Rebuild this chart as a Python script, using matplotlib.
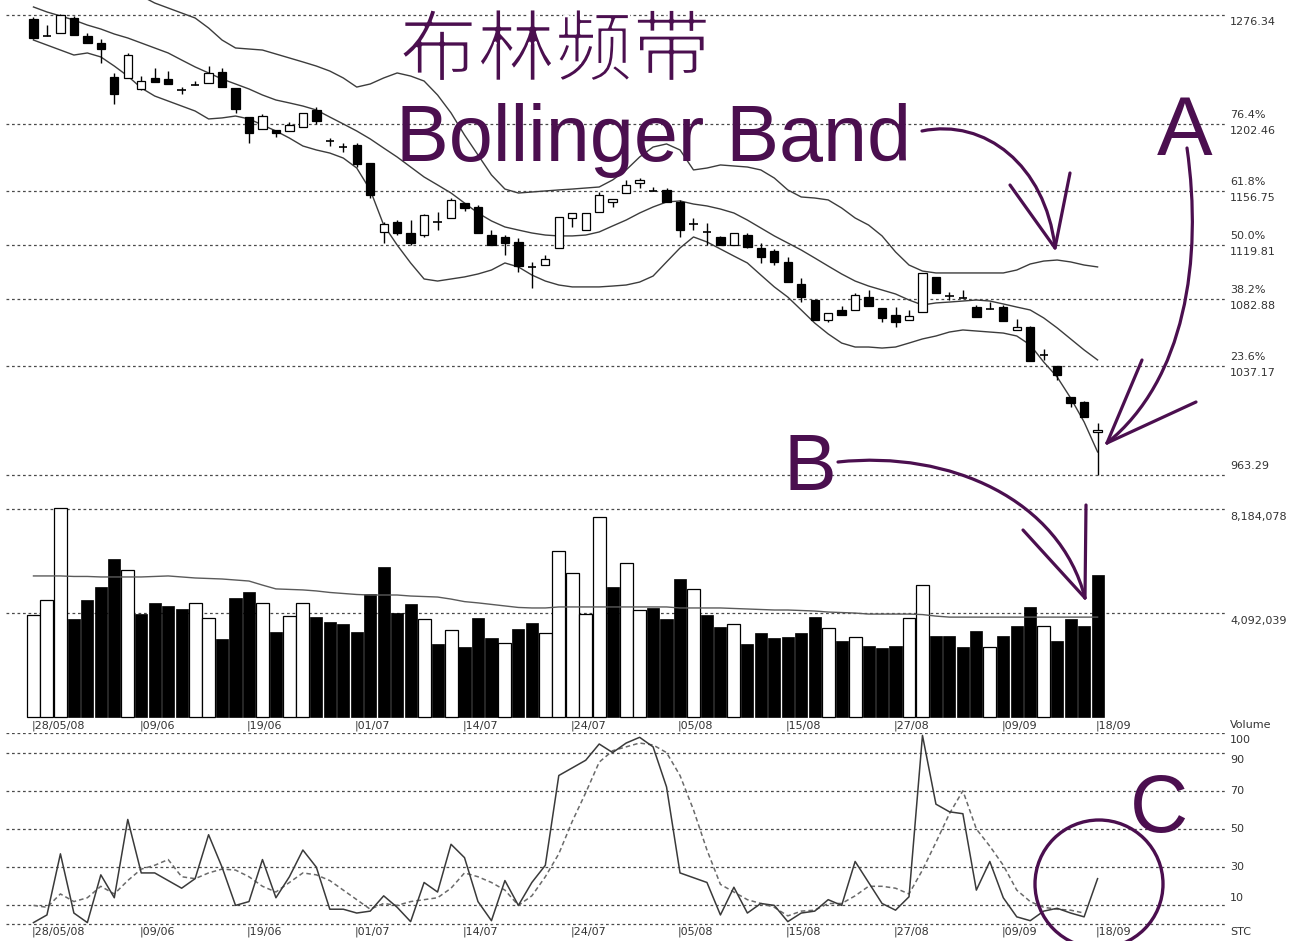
import numpy as np
import matplotlib
matplotlib.use("Agg")
import matplotlib.pyplot as plt
import matplotlib.patheffects as pe
from matplotlib.path import Path
from matplotlib.patches import PathPatch, Ellipse
from matplotlib.lines import Line2D

# ---------------- data ----------------
opens = [1273.6, 1262.1, 1264.1, 1274.3, 1262.1, 1257.3, 1234.1, 1233.5, 1226.0, 1233.5,
         1232.8, 1225.3, 1228.7, 1230.1, 1237.6, 1226.7, 1206.9, 1198.8, 1198.1, 1197.4,
         1200.1, 1211.7, 1190.6, 1186.5, 1187.9, 1175.6, 1128.7, 1135.5, 1128.0, 1126.6,
         1135.5, 1138.2, 1148.4, 1145.7, 1126.6, 1125.3, 1121.9, 1104.8, 1106.2, 1117.8,
         1138.2, 1130.0, 1142.3, 1149.1, 1155.2, 1162.0, 1156.6, 1157.3, 1149.1, 1134.1,
         1128.7, 1125.3, 1119.8, 1126.6, 1117.8, 1115.7, 1108.2, 1093.3, 1082.4, 1068.8,
         1075.6, 1075.6, 1084.4, 1076.9, 1072.2, 1068.8, 1074.2, 1098.0, 1085.1, 1083.8,
         1077.6, 1076.3, 1077.6, 1062.0, 1064.0, 1045.0, 1037.5, 1016.4, 1013.0, 992.6]
closes = [1260.7, 1262.1, 1276.3, 1262.7, 1257.3, 1253.2, 1222.6, 1249.1, 1231.4, 1230.8,
          1229.4, 1225.3, 1228.7, 1236.9, 1227.4, 1212.4, 1196.0, 1207.6, 1196.0, 1201.5,
          1209.7, 1204.2, 1190.6, 1186.5, 1174.9, 1153.8, 1134.1, 1128.0, 1121.2, 1140.2,
          1135.5, 1150.5, 1145.0, 1128.0, 1119.8, 1121.2, 1105.5, 1104.8, 1110.3, 1138.9,
          1141.6, 1141.6, 1153.8, 1151.1, 1160.7, 1164.1, 1156.6, 1149.1, 1130.0, 1134.1,
          1128.7, 1119.8, 1128.0, 1118.5, 1111.7, 1108.2, 1094.6, 1084.4, 1068.8, 1073.5,
          1072.2, 1085.8, 1078.3, 1070.2, 1067.4, 1071.5, 1100.8, 1087.2, 1085.1, 1083.8,
          1070.8, 1076.3, 1068.1, 1064.0, 1040.9, 1045.0, 1031.4, 1012.3, 1002.8, 993.9]
highs = [1275.0, 1269.5, 1277.0, 1275.7, 1264.1, 1260.0, 1236.9, 1250.5, 1234.8, 1240.3,
         1238.2, 1227.4, 1231.4, 1241.6, 1240.3, 1226.7, 1206.9, 1209.0, 1198.1, 1203.5,
         1209.7, 1213.7, 1192.6, 1189.2, 1189.2, 1175.6, 1135.5, 1136.8, 1136.8, 1140.9,
         1142.3, 1151.8, 1148.4, 1147.1, 1130.0, 1126.6, 1124.6, 1108.2, 1113.0, 1138.9,
         1141.6, 1141.6, 1155.9, 1151.1, 1164.1, 1165.4, 1159.3, 1158.6, 1150.5, 1138.2,
         1134.8, 1126.0, 1128.0, 1128.0, 1121.2, 1117.1, 1111.7, 1097.4, 1082.4, 1073.5,
         1078.3, 1087.2, 1089.2, 1076.9, 1077.6, 1075.6, 1100.8, 1098.0, 1087.8, 1089.2,
         1079.0, 1081.0, 1079.0, 1069.5, 1064.7, 1049.0, 1037.5, 1016.4, 1013.7, 998.7]
lows = [1260.0, 1262.1, 1264.1, 1262.7, 1257.3, 1243.7, 1215.8, 1233.5, 1225.3, 1230.8,
        1229.4, 1222.6, 1228.7, 1230.1, 1227.4, 1209.7, 1189.2, 1198.8, 1193.3, 1197.4,
        1200.1, 1202.2, 1187.2, 1183.1, 1172.9, 1151.8, 1121.2, 1126.6, 1119.8, 1125.3,
        1130.0, 1138.2, 1143.0, 1128.0, 1119.8, 1113.0, 1101.4, 1090.6, 1106.2, 1117.8,
        1132.1, 1130.0, 1142.3, 1145.7, 1155.2, 1158.6, 1156.6, 1149.1, 1125.3, 1130.0,
        1119.8, 1119.8, 1119.8, 1117.8, 1107.6, 1106.2, 1094.6, 1081.0, 1068.8, 1067.4,
        1072.2, 1075.6, 1078.3, 1067.4, 1064.0, 1068.8, 1074.2, 1087.2, 1082.4, 1083.8,
        1070.8, 1076.3, 1068.1, 1062.0, 1040.9, 1041.6, 1027.9, 1009.6, 1002.8, 963.3]

# Bollinger bands
bb_upper = [1313.8, 1311.0, 1308.3, 1305.6, 1302.9, 1300.2, 1296.8, 1293.4, 1289.3, 1284.5,
            1281.1, 1277.7, 1274.3, 1267.5, 1259.3, 1253.9, 1253.2, 1252.5, 1249.8, 1247.1,
            1244.4, 1241.6, 1238.2, 1233.5, 1227.3, 1229.4, 1233.5, 1236.9, 1234.8, 1231.4,
            1221.9, 1209.7, 1194.7, 1181.1, 1167.5, 1157.9, 1155.2, 1155.9, 1156.6, 1157.3,
            1157.9, 1158.6, 1159.3, 1164.1, 1170.9, 1179.7, 1186.5, 1188.6, 1184.5, 1170.9,
            1172.2, 1174.3, 1173.6, 1172.9, 1170.9, 1165.4, 1157.3, 1152.5, 1151.8, 1150.5,
            1145.0, 1138.2, 1133.4, 1126.0, 1115.1, 1106.2, 1102.1, 1100.8, 1100.8, 1100.8,
            1100.8, 1100.8, 1100.8, 1102.8, 1106.9, 1108.9, 1109.6, 1108.3, 1106.2, 1104.9]
bb_mid = [1281.8, 1278.4, 1275.7, 1272.9, 1269.5, 1266.8, 1263.4, 1260.7, 1257.3, 1253.9,
          1250.5, 1245.7, 1241.0, 1236.9, 1232.8, 1229.4, 1226.0, 1221.9, 1218.5, 1216.5,
          1214.4, 1211.7, 1206.9, 1202.2, 1197.4, 1192.0, 1185.8, 1179.7, 1172.9, 1166.1,
          1160.7, 1155.2, 1148.4, 1141.6, 1136.2, 1132.1, 1130.0, 1128.0, 1126.6, 1126.0,
          1126.0, 1126.6, 1128.7, 1132.8, 1136.8, 1141.6, 1145.7, 1149.1, 1149.8, 1147.7,
          1146.4, 1144.3, 1141.6, 1136.8, 1131.4, 1126.0, 1121.2, 1116.4, 1111.0, 1105.5,
          1100.1, 1095.3, 1091.9, 1089.2, 1086.5, 1082.4, 1079.0, 1080.4, 1081.0, 1081.7,
          1082.4, 1081.7, 1079.7, 1077.6, 1075.6, 1070.2, 1063.4, 1055.9, 1048.4, 1041.6]
bb_lower = [1259.3, 1255.9, 1252.5, 1249.1, 1250.5, 1247.8, 1241.6, 1234.8, 1226.7, 1221.2,
            1217.8, 1214.4, 1211.0, 1205.6, 1206.3, 1207.6, 1205.6, 1201.5, 1197.4, 1192.6,
            1187.2, 1184.5, 1182.4, 1179.0, 1172.2, 1157.3, 1133.4, 1119.8, 1107.6, 1096.7,
            1095.3, 1096.7, 1098.1, 1100.1, 1102.8, 1107.6, 1104.9, 1099.4, 1095.3, 1092.6,
            1091.3, 1091.3, 1091.3, 1091.9, 1092.6, 1094.6, 1098.7, 1108.3, 1117.8, 1125.3,
            1121.9, 1117.1, 1112.3, 1107.6, 1099.4, 1091.3, 1084.4, 1075.6, 1066.7, 1059.3,
            1053.1, 1050.4, 1050.4, 1049.7, 1050.4, 1053.1, 1055.9, 1057.9, 1060.6, 1062.0,
            1061.3, 1060.6, 1059.9, 1057.9, 1051.8, 1040.2, 1030.0, 1015.7, 999.4, 979.0]

# volume (millions of shares), 1 = up day (hollow bar), 0 = down day (solid bar)
volume_m = [4.01, 4.60, 8.22, 3.86, 4.60, 5.13, 6.20, 5.80, 4.05, 4.48,
            4.38, 4.26, 4.50, 3.90, 3.07, 4.68, 4.93, 4.50, 3.36, 3.97,
            4.50, 3.95, 3.75, 3.66, 3.36, 4.84, 5.90, 4.10, 4.44, 3.84,
            2.87, 3.42, 2.77, 3.90, 3.10, 2.90, 3.46, 3.70, 3.30, 6.54,
            5.67, 4.05, 7.87, 5.10, 6.07, 4.20, 4.28, 3.84, 5.42, 5.02,
            4.00, 3.53, 3.64, 2.87, 3.30, 3.10, 3.16, 3.30, 3.95, 3.52,
            3.00, 3.15, 2.80, 2.70, 2.80, 3.90, 5.20, 3.20, 3.20, 2.77,
            3.40, 2.77, 3.20, 3.60, 4.34, 3.58, 3.00, 3.84, 3.60, 5.60]
vol_up = [1, 1, 1, 0, 0, 0, 0, 1, 0, 0, 0, 0, 1, 1, 0, 0, 0, 1, 0, 1,
          1, 0, 0, 0, 0, 0, 0, 0, 0, 1, 0, 1, 0, 0, 0, 1, 0, 0, 1, 1,
          1, 1, 1, 0, 1, 1, 0, 0, 0, 1, 0, 0, 1, 0, 0, 0, 0, 0, 0, 1,
          0, 1, 0, 0, 0, 1, 1, 0, 0, 0, 0, 1, 0, 0, 0, 1, 0, 0, 0, 0]
vol_ma_m = [5.55, 5.55, 5.55, 5.53, 5.53, 5.51, 5.51, 5.51, 5.51, 5.53,
            5.55, 5.51, 5.47, 5.45, 5.43, 5.39, 5.35, 5.19, 5.04, 5.02,
            5.00, 4.96, 4.90, 4.86, 4.82, 4.80, 4.80, 4.80, 4.76, 4.74,
            4.72, 4.64, 4.54, 4.49, 4.43, 4.37, 4.31, 4.29, 4.29, 4.33,
            4.33, 4.33, 4.33, 4.33, 4.33, 4.33, 4.33, 4.33, 4.29, 4.29,
            4.29, 4.29, 4.27, 4.25, 4.23, 4.21, 4.21, 4.19, 4.17, 4.13,
            4.11, 4.09, 4.05, 4.05, 4.05, 4.05, 4.03, 3.97, 3.93, 3.93,
            3.93, 3.93, 3.93, 3.93, 3.93, 3.93, 3.93, 3.93, 3.93, 3.93]

# stochastic %K (solid) and %D (dashed)
stoch_k = [1, 5, 37, 6, 1, 26, 14, 55, 27, 27,
           23, 19, 24, 47, 30, 10, 12, 34, 14, 25,
           39, 30, 8, 8, 6, 7, 15, 9, 1.5, 22,
           17, 42, 35, 12, 2, 23, 10, 22, 31, 78,
           82, 86, 94.5, 90, 95, 98, 93, 72, 27, 24.5,
           22, 5, 19.5, 6, 11, 10, 1.5, 6, 7, 13,
           10, 33, 22, 11, 7.5, 14.5, 99, 63, 59, 58,
           18, 33, 14, 4, 2, 7, 8.5, 6, 4, 24]
stoch_d = [10, 9, 16, 12, 14, 20, 16, 23, 29, 31,
           34, 25, 24, 27, 29, 28.5, 25, 20, 17, 22,
           27, 26, 23, 18, 13, 8, 11, 10, 12, 13,
           14, 19, 27, 25, 22, 18, 10, 15, 25, 37,
           54, 69, 85, 91, 93, 95, 94, 90, 78, 60,
           39, 21, 17, 13, 11, 9, 4.5, 7, 7.5, 11,
           11, 15, 20, 20, 19, 16, 28.5, 43, 58, 70,
           50, 41, 31, 18, 12, 9, 8, 7.5, 6, np.nan]

date_idx = [0, 8, 16, 24, 32, 40, 48, 56, 64, 72, 79]
date_lbl = ["|28/05/08", "|09/06", "|19/06", "|01/07", "|14/07", "|24/07",
            "|05/08", "|15/08", "|27/08", "|09/09", "|18/09"]

price_lines = [1276.34, 1202.46, 1156.75, 1119.81, 1082.88, 1037.17, 963.29]
fib_pct = ["", "76.4%", "61.8%", "50.0%", "38.2%", "23.6%", ""]
vol_lines = [8184078, 4092039]
stc_lines = [100, 90, 70, 50, 30, 10, 0]

# ---------------- figure ----------------
W, H = 1292, 941
fig = plt.figure(figsize=(W / 100, H / 100), dpi=100)
fig.patch.set_facecolor("white")


def fx(px):
    return px / W


def fy(py):
    return 1 - py / H


left, right = fx(6), fx(1225)
ax_p = fig.add_axes([left, fy(490), right - left, 490 / H])
ax_v = fig.add_axes([left, fy(733), right - left, (733 - 495) / H])
ax_s = fig.add_axes([left, 0, right - left, (941 - 733) / H])

XL = (-2.04, 88.46)
for ax in (ax_p, ax_v, ax_s):
    ax.set_xlim(*XL)
    ax.set_axis_off()

ax_p.set_ylim(953.1, 1286.55)
ax_v.set_ylim(-629500, 8734800)
ax_s.set_ylim(-8.64, 100.26)

grid = dict(color="#4a4a4a", lw=0.9, ls=(0, (2.2, 2.2)), zorder=0)
txt = dict(fontsize=8, color="#333333", family="DejaVu Sans")

x = np.arange(len(closes))
o = np.array(opens)
c = np.array(closes)

# --- price panel ---
for v in price_lines:
    ax_p.axhline(v, **grid)
ax_p.plot(x, bb_upper, color="#3c3c3c", lw=1.0, zorder=2)
ax_p.plot(x, bb_mid, color="#3c3c3c", lw=1.0, zorder=2)
ax_p.plot(x, bb_lower, color="#3c3c3c", lw=1.0, zorder=2)
ax_p.vlines(x, lows, highs, color="black", lw=1.0, zorder=3)
bw = 0.62
up = c >= o
body = np.abs(c - o)
bottom = np.minimum(o, c)
big = body > 0.4
ax_p.bar(x[big & up], body[big & up], bottom=bottom[big & up], width=bw,
         facecolor="white", edgecolor="black", lw=0.9, zorder=4)
ax_p.bar(x[big & ~up], body[big & ~up], bottom=bottom[big & ~up], width=bw,
         facecolor="black", edgecolor="black", lw=0.9, zorder=4)
ax_p.hlines(c[~big], x[~big] - bw / 2, x[~big] + bw / 2, color="black", lw=1.2, zorder=4)

for v, p in zip(price_lines, fib_pct):
    if v == price_lines[-1]:
        ax_p.annotate(f"{v:.2f}", xy=(1, v), xycoords=("axes fraction", "data"),
                      xytext=(5, 9), textcoords="offset pixels", va="center", **txt)
        continue
    ax_p.annotate(f"{v:.2f}", xy=(1, v), xycoords=("axes fraction", "data"),
                  xytext=(5, -7), textcoords="offset pixels", va="center", **txt)
    if p:
        ax_p.annotate(p, xy=(1, v), xycoords=("axes fraction", "data"),
                      xytext=(5, 9), textcoords="offset pixels", va="center", **txt)

# --- volume panel ---
vol = np.array(volume_m) * 1e6
upv = np.array(vol_up) == 1
for v in vol_lines:
    ax_v.axhline(v, **grid)
    ax_v.annotate(f"{v:,}", xy=(1, v), xycoords=("axes fraction", "data"),
                  xytext=(5, -8), textcoords="offset pixels", va="center", **txt)
ax_v.bar(x[upv], vol[upv], width=0.96, facecolor="white", edgecolor="black", lw=0.9, zorder=2)
ax_v.bar(x[~upv], vol[~upv], width=0.9, facecolor="black", edgecolor="black", lw=0.5, zorder=2)
ax_v.plot(x, np.array(vol_ma_m) * 1e6, color="#5a5a5a", lw=1.0, zorder=3)
ax_v.text(1 + 5 / 1219, 0.034, "Volume", transform=ax_v.transAxes, va="center", ha="left", **txt)
for i, s in zip(date_idx, date_lbl):
    ax_v.annotate(s, xy=(i, 0.03), xycoords=("data", "axes fraction"),
                  xytext=(-2, 0), textcoords="offset pixels", va="center", ha="left", **txt)

# --- stochastic panel ---
stc_off = {100: -7, 90: -7, 70: 0, 50: 0, 30: 0, 10: 7}
for v in stc_lines:
    ax_s.axhline(v, **grid)
    if v in stc_off:
        ax_s.annotate(str(v), xy=(1, v), xycoords=("axes fraction", "data"),
                      xytext=(5, stc_off[v]), textcoords="offset pixels", va="center", **txt)
ax_s.plot(x, stoch_d, color="#6a6a6a", lw=1.1, ls=(0, (3, 2)), zorder=2)
ax_s.plot(x, stoch_k, color="#3a3a3a", lw=1.1, zorder=3)
ax_s.text(1 + 5 / 1219, 0.043, "STC", transform=ax_s.transAxes, va="center", ha="left", **txt)
for i, s in zip(date_idx, date_lbl):
    ax_s.annotate(s, xy=(i, 0.043), xycoords=("data", "axes fraction"),
                  xytext=(-2, 0), textcoords="offset pixels", va="center", ha="left", **txt)

# ---------------- purple hand-drawn annotations ----------------
purple = "#4b0f4f"
# thin the CJK glyphs a bit with a white outline drawn over the fill
fig.text(fx(555), fy(53), "布林频带", color=purple, fontsize=56, ha="center", va="center",
         family=["Noto Sans CJK SC", "DejaVu Sans"],
         path_effects=[pe.Normal(), pe.Stroke(linewidth=1.6, foreground="white")])
fig.text(fx(396), fy(161), "Bollinger Band", color=purple, fontsize=57, ha="left",
         va="baseline", family="Liberation Sans")
fig.text(fx(1185), fy(155), "A", color=purple, fontsize=60, ha="center", va="baseline",
         family="Liberation Sans")
fig.text(fx(810), fy(490), "B", color=purple, fontsize=57, ha="center", va="baseline",
         family="Liberation Sans")
fig.text(fx(1159), fy(832), "C", color=purple, fontsize=58, ha="center", va="baseline",
         family="Liberation Sans")


def curve(p0, p1, p2, p3):
    pts = [(fx(a), fy(b)) for a, b in (p0, p1, p2, p3)]
    pp = PathPatch(Path(pts, [Path.MOVETO, Path.CURVE4, Path.CURVE4, Path.CURVE4]),
                   fill=False, edgecolor=purple, lw=2.3, capstyle="round",
                   transform=fig.transFigure)
    fig.add_artist(pp)


def stroke(a, b):
    fig.add_artist(Line2D([fx(a[0]), fx(b[0])], [fy(a[1]), fy(b[1])], color=purple,
                          lw=2.3, solid_capstyle="round", transform=fig.transFigure))


# Bollinger Band arrow
curve((922, 131), (985, 118), (1045, 165), (1055, 247))
stroke((1055, 248), (1010, 185))
stroke((1055, 248), (1070, 173))
# A arrow
curve((1187, 148), (1203, 260), (1185, 380), (1107, 443))
stroke((1107, 443), (1142, 360))
stroke((1107, 443), (1196, 402))
# B arrow
curve((838, 462), (950, 450), (1060, 500), (1085, 598))
stroke((1085, 598), (1086, 505))
stroke((1085, 598), (1023, 530))
# C circle
fig.add_artist(Ellipse((fx(1099), fy(884)), 128 / W, 128 / H, fill=False,
                       edgecolor=purple, lw=2.4, transform=fig.transFigure))

fig.savefig("out.png", dpi=100)
